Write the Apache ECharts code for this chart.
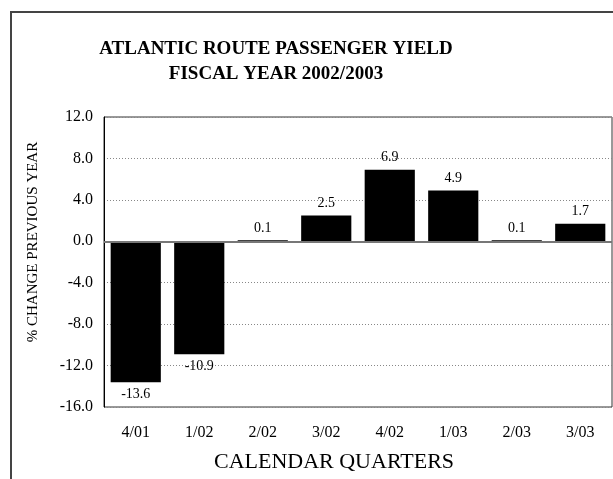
<!DOCTYPE html>
<html>
<head>
<meta charset="utf-8">
<script src="https://cdn.jsdelivr.net/npm/echarts@6/dist/echarts.min.js"></script>
<style>
    html, body { margin: 0; padding: 0; background: #fff; }
    #chart { width: 613px; height: 479px; }
</style>
</head>
<body>
<div id="chart"></div>
<script>
    // 季度与同比变化
    var quarters = ['4/01', '1/02', '2/02', '3/02', '4/02', '1/03', '2/03', '3/03'];
    var yieldChange = [-13.6, -10.9, 0.1, 2.5, 6.9, 4.9, 0.1, 1.7];
    var yTicks = {min: -16, max: 12, interval: 4};

    var serif = 'Liberation Serif';

    var myChart = echarts.init(document.getElementById('chart'));
    var option = {
        animation: false,
        title: {
            text: 'ATLANTIC ROUTE PASSENGER YIELD\nFISCAL YEAR 2002/2003',
            left: 271,
            top: 32,
            textAlign: 'center',
            textStyle: {
                fontFamily: serif,
                fontWeight: 'bold',
                fontSize: 19,
                lineHeight: 25,
                color: '#000'
            }
        },
        grid: {
            left: 104,
            right: 1,
            top: 117,
            bottom: 72,
            show: true,
            borderColor: '#333',
            borderWidth: 1
        },
        graphic: [
            {
                type: 'rect',
                shape: {x: 11, y: 12, width: 700, height: 600},
                style: {fill: 'none', stroke: '#444', lineWidth: 2}
            },
            {
                type: 'text',
                x: 334,
                y: 462,
                style: {
                    text: 'CALENDAR QUARTERS',
                    fontFamily: serif,
                    fontSize: 22,
                    fill: '#000',
                    textAlign: 'center',
                    textVerticalAlign: 'middle'
                }
            },
            {
                type: 'text',
                x: 33,
                y: 242,
                rotation: Math.PI / 2,
                style: {
                    text: '% CHANGE PREVIOUS YEAR',
                    fontFamily: serif,
                    fontSize: 15,
                    fill: '#000',
                    textAlign: 'center',
                    textVerticalAlign: 'middle'
                }
            }
        ],
        xAxis: {
            type: 'category',
            data: quarters,
            axisLine: {onZero: false, show: false},
            axisTick: {show: false},
            axisLabel: {
                margin: 18,
                fontFamily: serif,
                fontSize: 16,
                color: '#000'
            }
        },
        yAxis: {
            type: 'value',
            min: yTicks.min,
            max: yTicks.max,
            interval: yTicks.interval,
            axisLine: {show: true, lineStyle: {color: '#000', width: 1}},
            axisTick: {show: false},
            axisLabel: {
                margin: 11,
                fontFamily: serif,
                fontSize: 16,
                color: '#000',
                formatter: function (v) {
                    return v.toFixed(1);
                }
            },
            splitLine: {
                show: true,
                lineStyle: {color: '#888', type: [1, 2], width: 1}
            }
        },
        series: [
            {
                type: 'bar',
                data: yieldChange.map(function (v) {
                    return {
                        value: v,
                        label: {position: v < 0 ? 'bottom' : 'top'}
                    };
                }),
                barCategoryGap: '21%',
                itemStyle: {color: '#000'},
                label: {
                    show: true,
                    distance: 5,
                    fontFamily: serif,
                    fontSize: 14,
                    color: '#000',
                    formatter: function (p) {
                        return p.value.toFixed(1);
                    }
                },
                markLine: {
                    silent: true,
                    symbol: 'none',
                    label: {show: false},
                    lineStyle: {color: '#777', width: 2, type: 'solid'},
                    data: [{yAxis: 0}]
                }
            }
        ]
    };
    myChart.setOption(option);
</script>
</body>
</html>
